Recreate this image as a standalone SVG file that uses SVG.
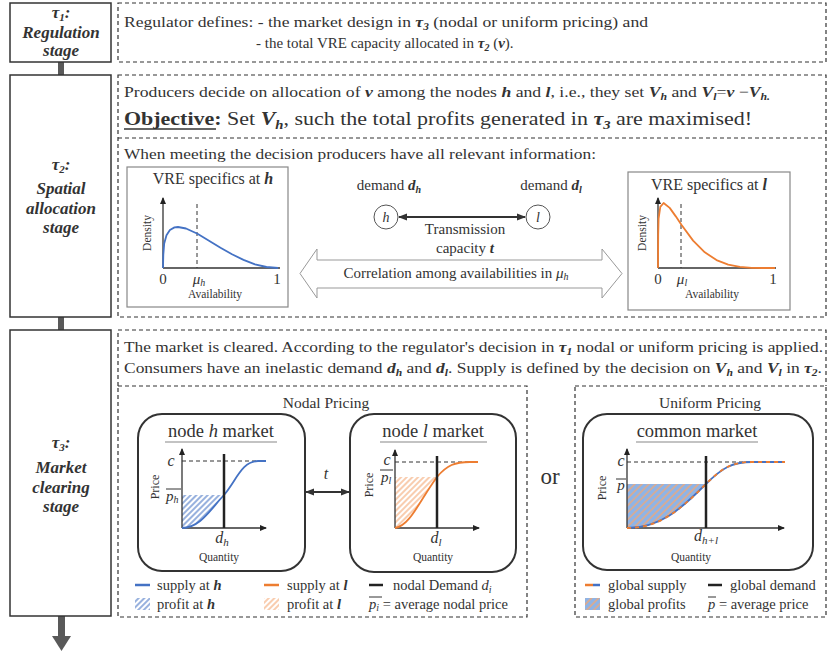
<svg xmlns="http://www.w3.org/2000/svg" width="829" height="651" viewBox="0 0 829 651">
<defs>
<style>
.tx{font-family:"Liberation Serif","Times New Roman",Tinos,"DejaVu Serif","Noto Serif",FreeSerif,serif;fill:#333}
.bi{font-weight:bold;font-style:italic}
.it{font-style:italic}
.c{text-anchor:middle}
.st{font-family:"Liberation Serif","Times New Roman",Tinos,"DejaVu Serif","Noto Serif",FreeSerif,serif;font-weight:bold;font-style:italic;fill:#333;font-size:17px;text-anchor:middle}
.stage{fill:#fff;stroke:#333;stroke-width:1.5}
.bar{fill:#595959}
.dash{fill:none;stroke:#333;stroke-width:1.2;stroke-dasharray:4 3}
.pbox{fill:#fff;stroke:#888;stroke-width:1.2}
.mkt{fill:#fff;stroke:#333;stroke-width:2}
.ax{stroke:#333;stroke-width:1.3;fill:none}
.dem{stroke:#222;stroke-width:2.5}
.cl{stroke:#333;stroke-width:1;stroke-dasharray:4 3;fill:none}
.blue{fill:none;stroke:#4472C4;stroke-width:1.8}
.orng{fill:none;stroke:#ED7D31;stroke-width:1.8}
.ul{stroke:#888;stroke-width:1.2}
.ov{stroke:#333;stroke-width:1}
</style>
<marker id="ax" markerWidth="7" markerHeight="7" refX="6" refY="3.5" orient="auto" markerUnits="userSpaceOnUse"><path d="M0,0.5 L7,3.5 L0,6.5 z" fill="#222"/></marker>
<marker id="ah" markerWidth="9" markerHeight="8" refX="8" refY="4" orient="auto-start-reverse" markerUnits="userSpaceOnUse"><path d="M0,0.5 L9,4 L0,7.5 z" fill="#333"/></marker>
<pattern id="hb" width="4" height="4" patternUnits="userSpaceOnUse" patternTransform="rotate(45)"><rect width="4" height="4" fill="#fff"/><line x1="1" y1="0" x2="1" y2="4" stroke="#4472C4" stroke-width="1.1"/></pattern>
<pattern id="ho" width="4" height="4" patternUnits="userSpaceOnUse" patternTransform="rotate(45)"><rect width="4" height="4" fill="#fff"/><line x1="1" y1="0" x2="1" y2="4" stroke="#F4A46E" stroke-width="1.1"/></pattern>
<pattern id="hu" width="5" height="5" patternUnits="userSpaceOnUse" patternTransform="rotate(45)"><rect width="5" height="5" fill="#8DB4E8"/><line x1="1.2" y1="0" x2="1.2" y2="5" stroke="#F0A878" stroke-width="1.4"/></pattern>
</defs>
<rect width="829" height="651" fill="#fff"/>

<g id="connectors">
  <rect class="bar" x="58" y="62" width="6" height="13"/>
  <rect class="bar" x="58" y="317" width="6" height="13"/>
  <rect class="bar" x="58" y="616" width="7" height="21"/>
  <polygon class="bar" points="52,636 71,636 61.5,651"/>
  <line x1="399" y1="217" x2="525" y2="217" stroke="#333" stroke-width="2" marker-start="url(#ah)" marker-end="url(#ah)"/>
  <line x1="306" y1="492" x2="349" y2="492" stroke="#333" stroke-width="2" marker-start="url(#ah)" marker-end="url(#ah)"/>
  <polygon points="300,273.5 317,249 317,260 602,260 602,249 622,273.5 602,298 602,288 317,288 317,298" fill="#fff" stroke="#999" stroke-width="1"/>
</g>

<g id="stage1">
  <rect class="stage" x="10" y="3" width="101" height="59"/>
  <text class="st" x="61" y="18">τ<tspan font-size="11" dy="3">1</tspan><tspan dy="-3">:</tspan></text>
  <text class="st" x="61" y="38">Regulation</text>
  <text class="st" x="61" y="56">stage</text>
</g>
<g id="stage2">
  <rect class="stage" x="10" y="75" width="101" height="242"/>
  <text class="st" x="61" y="170">τ<tspan font-size="11" dy="3">2</tspan><tspan dy="-3">:</tspan></text>
  <text class="st" x="61" y="194">Spatial</text>
  <text class="st" x="61" y="214">allocation</text>
  <text class="st" x="61" y="233">stage</text>
</g>
<g id="stage3">
  <rect class="stage" x="10" y="330" width="101" height="286"/>
  <text class="st" x="61" y="448">τ<tspan font-size="11" dy="3">3</tspan><tspan dy="-3">:</tspan></text>
  <text class="st" x="61" y="473">Market</text>
  <text class="st" x="61" y="493">clearing</text>
  <text class="st" x="61" y="512">stage</text>
</g>

<g id="regulation-box">
  <rect class="dash" x="118" y="3" width="708" height="59"/>
  <text class="tx" x="124" y="27" font-size="15.5" textLength="524" lengthAdjust="spacingAndGlyphs">Regulator defines: - the market design in <tspan class="bi">τ</tspan><tspan class="bi" font-size="10" dy="3">3</tspan><tspan dy="-3"> (nodal or uniform pricing) and</tspan></text>
  <text class="tx" x="256" y="48" font-size="15">- the total VRE capacity allocated in <tspan class="bi">τ</tspan><tspan class="bi" font-size="10" dy="3">2</tspan><tspan dy="-3"> (</tspan><tspan class="bi">v</tspan>).</text>
</g>

<g id="allocation-box">
  <rect class="dash" x="118" y="75" width="708" height="242"/>
  <line class="dash" x1="118" y1="138" x2="826" y2="138"/>
  <text class="tx" x="124" y="97" font-size="15" textLength="646" lengthAdjust="spacingAndGlyphs">Producers  decide on allocation of <tspan class="bi">v</tspan> among the nodes <tspan class="bi">h</tspan> and <tspan class="bi">l</tspan>, i.e., they set  <tspan class="bi">V</tspan><tspan class="bi" font-size="10" dy="3">h</tspan><tspan dy="-3"> and </tspan><tspan class="bi">V</tspan><tspan class="bi" font-size="10" dy="3">l</tspan><tspan dy="-3">=</tspan><tspan class="bi">v</tspan> −<tspan class="bi">V</tspan><tspan class="bi" font-size="10" dy="3">h.</tspan></text>
  <text class="tx" x="124" y="125" font-size="19.5" textLength="628" lengthAdjust="spacingAndGlyphs"><tspan font-weight="bold">Objective:</tspan> Set  <tspan class="bi">V</tspan><tspan class="bi" font-size="13" dy="4">h</tspan><tspan dy="-4">, such the total profits generated in </tspan><tspan class="bi">τ</tspan><tspan class="bi" font-size="13" dy="4">3</tspan><tspan dy="-4"> are maximised!</tspan></text>
  <line x1="124" y1="129" x2="216" y2="129" stroke="#333" stroke-width="1.5"/>
  <text class="tx" x="124" y="159" font-size="15" textLength="472" lengthAdjust="spacingAndGlyphs">When meeting the decision producers have all relevant information:</text>
</g>

<g id="vre-h">
  <rect class="pbox" x="127" y="167" width="161" height="140"/>
  <text class="tx c" x="213" y="184" font-size="16">VRE specifics  at <tspan class="bi">h</tspan></text>
  <path class="ax" d="M163,268 L163,198" marker-end="url(#ax)"/>
  <path class="ax" d="M163,268 L280,268"/>
  <line class="cl" x1="197" y1="204" x2="197" y2="268"/>
  <polyline class="blue" stroke-linejoin="round" points="163,268 163.3,255 164.2,243.4 166.5,235.2 169.9,230 174.5,227.4 178,227 186,228.5 197.5,233.8 209,240.7 220.5,247.7 232,254.3 243.5,259.9 255,264.3 266.5,267 278,268"/>
  <text class="tx c" x="163" y="284" font-size="15">0</text>
  <text class="tx c" x="199" y="284" font-size="15"><tspan class="it">μ</tspan><tspan class="it" font-size="10" dy="2">h</tspan></text>
  <text class="tx c" x="277" y="284" font-size="15">1</text>
  <text class="tx c" x="215" y="298" font-size="11.5">Availability</text>
  <text class="tx c" font-size="11.5" transform="translate(151,233) rotate(-90)">Density</text>
</g>

<g id="network">
  <text class="tx c" x="389" y="190" font-size="15">demand  <tspan class="bi">d</tspan><tspan class="bi" font-size="10" dy="3">h</tspan></text>
  <text class="tx c" x="551" y="190" font-size="15">demand  <tspan class="bi">d</tspan><tspan class="bi" font-size="10" dy="3">l</tspan></text>
  <g id="node-h"><circle cx="386" cy="217" r="12" fill="#fff" stroke="#555" stroke-width="1"/><text class="tx c it" x="386" y="222" font-size="14">h</text></g>
  <g id="node-l"><circle cx="538" cy="217" r="12" fill="#fff" stroke="#555" stroke-width="1"/><text class="tx c it" x="538" y="222" font-size="14">l</text></g>
  <text class="tx c" x="465" y="234" font-size="15">Transmission</text>
  <text class="tx c" x="465" y="253" font-size="15">capacity  <tspan class="bi">t</tspan></text>
  <text class="tx c" x="456" y="278" font-size="15">Correlation among availabilities in  <tspan class="it">μ</tspan><tspan class="it" font-size="10" dy="2">h</tspan></text>
</g>

<g id="vre-l">
  <rect class="pbox" x="628" y="172" width="162" height="138"/>
  <text class="tx c" x="709" y="190" font-size="16">VRE specifics  at <tspan class="bi">l</tspan></text>
  <path class="ax" d="M658,268 L658,198" marker-end="url(#ax)"/>
  <path class="ax" d="M658,268 L776,268"/>
  <line class="cl" x1="681" y1="204" x2="681" y2="268"/>
  <polyline class="orng" stroke-linejoin="round" points="658,268 658.2,235 658.6,218.7 660.3,206.8 663.6,203 669.7,207.9 675.6,216.1 681.4,224.8 693.1,240.6 704.8,252.3 716.5,260.1 728.2,264.6 739.9,266.9 751.6,267.8 763,268 775,268"/>
  <text class="tx c" x="658" y="284" font-size="15">0</text>
  <text class="tx c" x="682" y="284" font-size="15"><tspan class="it">μ</tspan><tspan class="it" font-size="10" dy="2">l</tspan></text>
  <text class="tx c" x="773" y="284" font-size="15">1</text>
  <text class="tx c" x="712" y="298" font-size="11.5">Availability</text>
  <text class="tx c" font-size="11.5" transform="translate(646,233) rotate(-90)">Density</text>
</g>

<g id="clearing-box">
  <path class="dash" d="M118,386 L118,330 L826,330 L826,386"/>
  <text class="tx" x="124" y="352" font-size="15" textLength="699" lengthAdjust="spacingAndGlyphs">The market is cleared. According to the regulator's decision in <tspan class="bi">τ</tspan><tspan class="bi" font-size="10" dy="3">1</tspan><tspan dy="-3"> nodal or uniform pricing is applied.</tspan></text>
  <text class="tx" x="124" y="373" font-size="15" textLength="698" lengthAdjust="spacingAndGlyphs">Consumers have an inelastic demand <tspan class="bi">d</tspan><tspan class="bi" font-size="10" dy="3">h</tspan><tspan dy="-3"> and </tspan><tspan class="bi">d</tspan><tspan class="bi" font-size="10" dy="3">l</tspan><tspan dy="-3">. Supply is defined by the decision on </tspan><tspan class="bi">V</tspan><tspan class="bi" font-size="10" dy="3">h</tspan><tspan dy="-3"> and </tspan><tspan class="bi">V</tspan><tspan class="bi" font-size="10" dy="3">l</tspan><tspan dy="-3"> in </tspan><tspan class="bi">τ</tspan><tspan class="bi" font-size="10" dy="3">2</tspan><tspan dy="-3">.</tspan></text>
</g>

<g id="nodal-pricing">
  <rect class="dash" x="118" y="386" width="409" height="231"/>
  <text class="tx c" x="326" y="408" font-size="15.5">Nodal Pricing</text>
</g>

<g id="node-h-market">
  <rect class="mkt" x="138" y="414" width="167" height="157" rx="24"/>
  <text class="tx c" x="221" y="437" font-size="18.5">node <tspan class="it">h</tspan> market</text>
  <line class="ul" x1="165" y1="442" x2="277" y2="442"/>
  <path d="M182,495 L224,495 C210,510 200,528 182,528 Z" fill="url(#hb)"/>
  <line class="cl" x1="182" y1="461" x2="266" y2="461"/>
  <path class="ax" d="M182,528 L182,449" marker-end="url(#ax)"/>
  <path class="ax" d="M182,528 L266,528" marker-end="url(#ax)"/>
  <path class="blue" d="M182,528 C200,528 210,510 224,495 C236,481 242,461 258,461 L266,461"/>
  <line class="dem" x1="224" y1="454" x2="224" y2="528"/>
  <text class="tx c it" x="171" y="466" font-size="16">c</text>
  <text class="tx it" x="166" y="501" font-size="15">p<tspan font-size="10" dy="2">h</tspan></text>
  <line class="ov" x1="166" y1="489" x2="181" y2="489"/>
  <text class="tx c" font-size="12" transform="translate(159,487) rotate(-90)">Price</text>
  <text class="tx c it" x="222" y="543" font-size="16">d<tspan font-size="11" dy="3">h</tspan></text>
  <text class="tx c" x="219" y="561" font-size="11.5">Quantity</text>
  <text class="tx c it" x="326" y="479" font-size="16">t</text>
</g>

<g id="node-l-market">
  <rect class="mkt" x="350" y="414" width="166" height="158" rx="24"/>
  <text class="tx c" x="433" y="437" font-size="18.5">node <tspan class="it">l</tspan> market</text>
  <line class="ul" x1="380" y1="442" x2="487" y2="442"/>
  <path d="M395,477 L437,477 C420,500 410,526 395,528 Z" fill="url(#ho)"/>
  <line class="cl" x1="395" y1="462" x2="478" y2="462"/>
  <path class="ax" d="M395,528 L395,450" marker-end="url(#ax)"/>
  <path class="ax" d="M395,528 L479,528" marker-end="url(#ax)"/>
  <path class="orng" d="M395,528 C410,526 420,500 437,477 C447,465 455,462 470,462 L478,462"/>
  <line class="dem" x1="437" y1="456" x2="437" y2="528"/>
  <text class="tx c it" x="387" y="465" font-size="16">c</text>
  <text class="tx it" x="381" y="482" font-size="15">p<tspan font-size="10" dy="2">l</tspan></text>
  <line class="ov" x1="380" y1="470" x2="393" y2="470"/>
  <text class="tx c" font-size="12" transform="translate(373,485) rotate(-90)">Price</text>
  <text class="tx c it" x="436" y="543" font-size="16">d<tspan font-size="11" dy="3">l</tspan></text>
  <text class="tx c" x="433" y="561" font-size="11.5">Quantity</text>
</g>

<text class="tx c" x="550" y="484" font-size="23">or</text>

<g id="uniform-pricing">
  <rect class="dash" x="575" y="386" width="251" height="231"/>
  <text class="tx c" x="710" y="408" font-size="15.5">Uniform Pricing</text>
</g>

<g id="common-market">
  <rect class="mkt" x="583" y="414" width="230" height="156" rx="24"/>
  <text class="tx c" x="697" y="437" font-size="18.5">common market</text>
  <line class="ul" x1="636" y1="442" x2="758" y2="442"/>
  <path d="M627,484 L706,484 C680,510 660,528 627,528 Z" fill="url(#hu)"/>
  <line class="cl" x1="627" y1="462" x2="785" y2="462"/>
  <path class="ax" d="M627,528 L627,449" marker-end="url(#ax)"/>
  <path class="ax" d="M627,528 L784,528" marker-end="url(#ax)"/>
  <path class="blue" d="M627,528 C660,528 680,510 706,484 C722,468 732,462 752,462 L785,462"/>
  <path class="orng" stroke-dasharray="4 4" d="M627,528 C660,528 680,510 706,484 C722,468 732,462 752,462 L785,462"/>
  <line class="dem" x1="706" y1="456" x2="706" y2="528"/>
  <text class="tx c it" x="621" y="466" font-size="16">c</text>
  <text class="tx c it" x="621" y="490" font-size="15">p</text>
  <line class="ov" x1="616" y1="479" x2="626" y2="479"/>
  <text class="tx c" font-size="12" transform="translate(606,488) rotate(-90)">Price</text>
  <text class="tx c it" x="706" y="541" font-size="16">d<tspan font-size="11" dy="3">h+l</tspan></text>
  <text class="tx c" x="691" y="561" font-size="11.5">Quantity</text>
</g>

<g id="legend-nodal">
  <line x1="135" y1="585" x2="150" y2="585" stroke="#4472C4" stroke-width="2.5"/>
  <text class="tx" x="157" y="590" font-size="14.5">supply at <tspan class="bi">h</tspan></text>
  <line x1="264" y1="585" x2="279" y2="585" stroke="#ED7D31" stroke-width="2.5"/>
  <text class="tx" x="287" y="590" font-size="14.5">supply at <tspan class="bi">l</tspan></text>
  <line x1="369" y1="585" x2="383" y2="585" stroke="#222" stroke-width="2.5"/>
  <text class="tx" x="393" y="590" font-size="14.5">nodal Demand <tspan class="it">d</tspan><tspan class="it" font-size="10" dy="3">i</tspan></text>
  <rect x="135" y="598" width="15" height="12" fill="url(#hb)"/>
  <text class="tx" x="157" y="609" font-size="14.5">profit at <tspan class="bi">h</tspan></text>
  <rect x="264" y="598" width="15" height="12" fill="url(#ho)"/>
  <text class="tx" x="287" y="609" font-size="14.5">profit at <tspan class="bi">l</tspan></text>
  <text class="tx" x="369" y="609" font-size="14.5"><tspan class="it">p</tspan><tspan class="it" font-size="10" dy="2">i</tspan><tspan dy="-2"> = average nodal price</tspan></text>
  <line class="ov" x1="369" y1="597" x2="382" y2="597"/>
</g>

<g id="legend-uniform">
  <line x1="585" y1="585" x2="593" y2="585" stroke="#ED7D31" stroke-width="2.5"/>
  <line x1="593" y1="585" x2="600" y2="585" stroke="#4472C4" stroke-width="2.5"/>
  <text class="tx" x="608" y="590" font-size="14.5">global supply</text>
  <line x1="708" y1="585" x2="722" y2="585" stroke="#222" stroke-width="2.5"/>
  <text class="tx" x="730" y="590" font-size="14.5">global demand</text>
  <rect x="585" y="598" width="15" height="12" fill="url(#hu)"/>
  <text class="tx" x="608" y="609" font-size="14.5">global profits</text>
  <text class="tx" x="708" y="609" font-size="14.5"><tspan class="it">p</tspan> = average price</text>
  <line class="ov" x1="708" y1="597" x2="716" y2="597"/>
</g>
</svg>
